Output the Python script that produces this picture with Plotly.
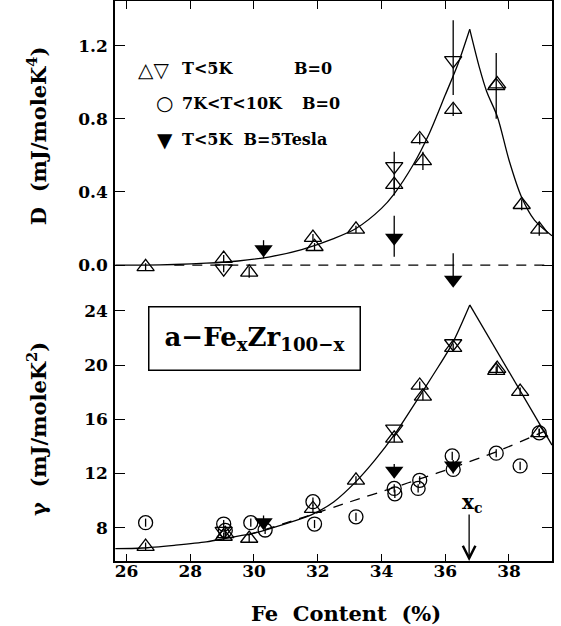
import plotly.graph_objects as go

# ---------------- data: top panel (D) ----------------
d_up_x = [26.6, 29.05, 29.85, 31.85, 31.9, 33.2, 34.4, 35.2, 35.3, 36.25, 37.6, 37.63, 38.4, 38.95]
d_up_y = [-0.01, 0.035, -0.04, 0.15, 0.10, 0.195, 0.44, 0.69, 0.57, 0.85, 0.98, 0.99, 0.33, 0.195]
d_up_err = [0.02, 0.02, 0.03, 0.02, 0.02, 0.02, 0.03, 0.03, 0.05, 0.035, 0.18, 0.0, 0.03, 0.035]

d_down_x = [29.05, 34.4, 36.25]
d_down_y = [-0.02, 0.54, 1.12]
d_down_errp = [0.02, 0.08, 0.22]
d_down_errm = [0.02, 0.16, 0.19]

d_b5_x = [30.3, 34.4, 36.25]
d_b5_y = [0.086, 0.15, -0.08]
d_b5_errp = [0.05, 0.12, 0.145]
d_b5_errm = [0.05, 0.105, 0.0]

d_fit_left_x = [25.65, 26.6, 27.5, 28.5, 29.5, 30.5, 31.5, 32.5, 33.2, 34.0, 34.4, 35.0, 35.5, 36.0, 36.4, 36.77]
d_fit_left_y = [0.0, 0.0, 0.003, 0.01, 0.022, 0.045, 0.085, 0.145, 0.2, 0.31, 0.39, 0.55, 0.72, 0.93, 1.1, 1.29]
d_fit_right_x = [36.77, 37.08, 37.3, 37.64, 38.0, 38.39, 38.8, 39.35]
d_fit_right_y = [1.29, 1.076, 0.95, 0.81, 0.575, 0.374, 0.246, 0.16]
d_zero_x = [27.5, 39.35]
d_zero_y = [0.0, 0.0]

# ---------------- data: bottom panel (gamma) ----------------
g_up_x = [26.6, 29.05, 29.1, 29.85, 31.85, 33.2, 34.4, 35.2, 35.3, 36.25, 37.6, 37.63, 38.35, 38.95]
g_up_y = [6.6, 7.35, 7.55, 7.2, 9.4, 11.5, 14.6, 18.5, 17.7, 21.3, 19.6, 19.75, 18.05, 15.0]
g_down_x = [29.05, 34.4, 36.25]
g_down_y = [7.75, 15.3, 21.6]
g_b5_x = [30.3, 34.4, 36.25]
g_b5_y = [8.4, 12.2, 12.6]
g_circ_x = [26.6, 29.05, 29.1, 29.9, 30.35, 31.85, 31.9, 33.2, 34.4, 34.42, 35.2, 35.15, 36.22, 36.25, 37.6, 38.35, 38.95]
g_circ_y = [8.37, 8.27, 7.8, 8.37, 7.83, 9.92, 8.27, 8.8, 10.9, 10.5, 11.5, 10.9, 13.3, 12.3, 13.5, 12.56, 15.0]

g_fit_left_x = [25.65, 26.5, 27.5, 28.5, 29.2, 30.0, 30.6, 31.2, 31.8, 32.5, 33.2, 33.8, 34.4, 35.0, 35.6, 36.2, 36.77]
g_fit_left_y = [6.45, 6.5, 6.7, 6.95, 7.25, 7.6, 8.0, 8.45, 8.95, 9.9, 11.4, 13.0, 14.85, 17.0, 19.2, 21.5, 24.45]
g_fit_right_x = [36.77, 39.35]
g_fit_right_y = [24.45, 14.1]
g_dash_x = [29.8, 31.6, 33.0, 34.4, 35.3, 36.2, 37.6, 38.95, 39.35]
g_dash_y = [7.45, 8.8, 9.9, 10.97, 11.68, 12.4, 13.6, 14.95, 15.35]

x_ticks = [26, 28, 30, 32, 34, 36, 38]
d_ticks = [0.0, 0.4, 0.8, 1.2]
g_ticks = [8, 12, 16, 20, 24]
x_c = 36.75

BLACK = "black"
SERIF = "DejaVu Serif"
MS = 15

fig = go.Figure()


def err(plus, minus=None):
    d = dict(type="data", array=plus, color=BLACK, thickness=1.3, width=0, visible=True)
    if minus is not None:
        d.update(symmetric=False, arrayminus=minus)
    return d


# ---- top panel ----
fig.add_trace(go.Scatter(x=d_fit_left_x, y=d_fit_left_y, mode="lines", xaxis="x2", yaxis="y2",
                         line=dict(color=BLACK, width=1.3, shape="spline", smoothing=0.8), hoverinfo="skip"))
fig.add_trace(go.Scatter(x=d_fit_right_x, y=d_fit_right_y, mode="lines", xaxis="x2", yaxis="y2",
                         line=dict(color=BLACK, width=1.3, shape="spline", smoothing=0.8), hoverinfo="skip"))
fig.add_trace(go.Scatter(x=d_zero_x, y=d_zero_y, mode="lines", xaxis="x2", yaxis="y2",
                         line=dict(color=BLACK, width=1.3, dash="10px,8px"), hoverinfo="skip"))
fig.add_trace(go.Scatter(x=d_up_x, y=d_up_y, mode="markers", xaxis="x2", yaxis="y2", error_y=err(d_up_err),
                         marker=dict(symbol="triangle-up-open", size=MS, color=BLACK, line=dict(width=1.3))))
fig.add_trace(go.Scatter(x=d_down_x, y=d_down_y, mode="markers", xaxis="x2", yaxis="y2",
                         error_y=err(d_down_errp, d_down_errm),
                         marker=dict(symbol="triangle-down-open", size=MS, color=BLACK, line=dict(width=1.3))))
fig.add_trace(go.Scatter(x=d_b5_x, y=d_b5_y, mode="markers", xaxis="x2", yaxis="y2",
                         error_y=err(d_b5_errp, d_b5_errm),
                         marker=dict(symbol="triangle-down", size=16, color=BLACK)))

# ---- bottom panel ----
fig.add_trace(go.Scatter(x=g_fit_left_x, y=g_fit_left_y, mode="lines", xaxis="x", yaxis="y",
                         line=dict(color=BLACK, width=1.3, shape="spline", smoothing=0.8), hoverinfo="skip"))
fig.add_trace(go.Scatter(x=g_fit_right_x, y=g_fit_right_y, mode="lines", xaxis="x", yaxis="y",
                         line=dict(color=BLACK, width=1.3), hoverinfo="skip"))
fig.add_trace(go.Scatter(x=g_dash_x, y=g_dash_y, mode="lines", xaxis="x", yaxis="y",
                         line=dict(color=BLACK, width=1.3, dash="10px,8px", shape="spline", smoothing=0.6),
                         hoverinfo="skip"))
fig.add_trace(go.Scatter(x=g_circ_x, y=g_circ_y, mode="markers", xaxis="x", yaxis="y",
                         error_y=err([0.3] * len(g_circ_x)),
                         marker=dict(symbol="circle-open", size=14, color=BLACK, line=dict(width=1.3))))
fig.add_trace(go.Scatter(x=g_up_x, y=g_up_y, mode="markers", xaxis="x", yaxis="y",
                         error_y=err([0.3] * len(g_up_x)),
                         marker=dict(symbol="triangle-up-open", size=MS, color=BLACK, line=dict(width=1.3))))
fig.add_trace(go.Scatter(x=g_down_x, y=g_down_y, mode="markers", xaxis="x", yaxis="y",
                         marker=dict(symbol="triangle-down-open", size=MS, color=BLACK, line=dict(width=1.3))))
fig.add_trace(go.Scatter(x=g_b5_x, y=g_b5_y, mode="markers", xaxis="x", yaxis="y",
                         error_y=err([0.5, 0.5, 0.4]),
                         marker=dict(symbol="triangle-down", size=16, color=BLACK)))

tickfont = dict(family=SERIF, size=17, color=BLACK, weight="bold")
common_axis = dict(showline=True, linecolor=BLACK, linewidth=1.5, ticks="inside", tickcolor=BLACK,
                   tickwidth=1.3, showgrid=False, zeroline=False, tickfont=tickfont)

SPLIT = 0.475
fig.update_layout(
    width=561, height=626,
    margin=dict(l=115, r=8.5, t=1, b=65),
    paper_bgcolor="white", plot_bgcolor="white",
    showlegend=False,
    xaxis=dict(common_axis, range=[25.64, 39.35], tickvals=x_ticks, ticklen=7, anchor="y", side="bottom",
               mirror=False, ticklabelstandoff=-6),
    xaxis2=dict(common_axis, range=[25.64, 39.35], tickvals=x_ticks, ticklen=8, anchor="y2", side="top",
                matches="x", showticklabels=False, mirror=False),
    yaxis=dict(common_axis, domain=[0, SPLIT], range=[5.54, 25.18], tickvals=g_ticks, ticklen=10,
               anchor="x", mirror="ticks", ticklabelstandoff=2),
    yaxis2=dict(common_axis, domain=[SPLIT, 1], range=[-0.164, 1.445], tickvals=d_ticks, ticklen=10,
                tickformat=".1f", anchor="x2", mirror="ticks", ticklabelstandoff=2),
)

title_font = dict(family=SERIF, size=21, color=BLACK, weight="bold")
legend_font = dict(family=SERIF, size=16, color=BLACK, weight="bold")
sym_font = dict(family="DejaVu Sans", size=20, color=BLACK)

annotations = [
    # axis titles
    dict(text="D  (mJ/moleK<sup>4</sup>)", xref="paper", yref="paper", x=-0.178, y=0.759,
         textangle=-90, showarrow=False, font=title_font, xanchor="center", yanchor="middle"),
    dict(text="γ  (mJ/moleK<sup>2</sup>)", xref="paper", yref="paper", x=-0.178, y=0.236,
         textangle=-90, showarrow=False, font=title_font, xanchor="center", yanchor="middle"),
    dict(text="Fe  Content  (%)", xref="paper", yref="paper", x=0.528, y=-0.093,
         showarrow=False, font=title_font, xanchor="center", yanchor="middle"),
    # legend
    dict(text="△▽", xref="paper", yref="paper", x=0.087, y=0.877, showarrow=False, font=sym_font,
         xanchor="center", yanchor="middle"),
    dict(text="T&lt;5K", xref="paper", yref="paper", x=0.1486, y=0.8798, showarrow=False, font=legend_font,
         xanchor="left", yanchor="middle"),
    dict(text="B=0", xref="paper", yref="paper", x=0.405, y=0.8798, showarrow=False, font=legend_font,
         xanchor="left", yanchor="middle"),
    dict(text="○", xref="paper", yref="paper", x=0.1143, y=0.8173, showarrow=False, font=sym_font,
         xanchor="center", yanchor="middle"),
    dict(text="7K&lt;T&lt;10K", xref="paper", yref="paper", x=0.1486, y=0.8173, showarrow=False,
         font=legend_font, xanchor="left", yanchor="middle"),
    dict(text="B=0", xref="paper", yref="paper", x=0.424, y=0.8173, showarrow=False, font=legend_font,
         xanchor="left", yanchor="middle"),
    dict(text="▼", xref="paper", yref="paper", x=0.1143, y=0.7518, showarrow=False, font=sym_font,
         xanchor="center", yanchor="middle"),
    dict(text="T&lt;5K  B=5Tesla", xref="paper", yref="paper", x=0.1486, y=0.7518, showarrow=False,
         font=legend_font, xanchor="left", yanchor="middle"),
    # sample box
    dict(text="a−Fe<sub>x</sub>Zr<sub>100−x</sub>", xref="paper", yref="paper", x=0.3187, y=0.3975,
         showarrow=False, font=dict(family=SERIF, size=26, color=BLACK, weight="bold"),
         xanchor="center", yanchor="middle", width=208, height=60, bordercolor=BLACK, borderwidth=1.5,
         borderpad=1, bgcolor="white"),
    # x_c arrow
    dict(text="", x=x_c, y=5.54, xref="x", yref="y", ax=0, ay=-48, showarrow=True, arrowhead=5,
         arrowsize=1.9, arrowwidth=1.3, arrowcolor=BLACK),
    dict(text="x<sub>c</sub>", x=x_c + 0.08, y=9.8, xref="x", yref="y", showarrow=False,
         font=dict(family=SERIF, size=20, color=BLACK, weight="bold"), xanchor="center", yanchor="middle"),
]
fig.update_layout(annotations=annotations)

fig.write_html("out.html")
